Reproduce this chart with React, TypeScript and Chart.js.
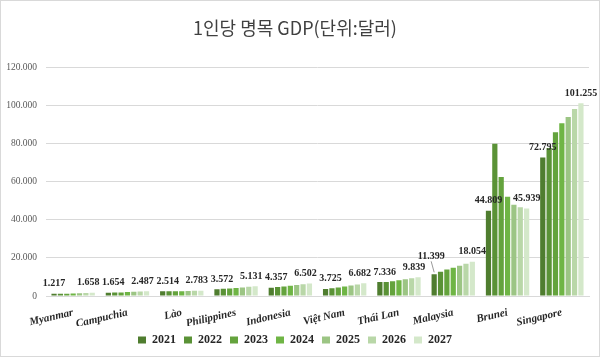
import React, { useEffect, useRef } from "react";
import { Chart, registerables } from "chart.js";
Chart.register(...registerables);

const title = "1인당 명목 GDP(단위:달러)";
const categories = ["Myanmar", "Campuchia", "Lào", "Philippines", "Indonesia", "Việt Nam", "Thái Lan", "Malaysia", "Brunei", "Singapore"];
const years = ["2021", "2022", "2023", "2024", "2025", "2026", "2027"];
const v2021 = [1217, 1654, 2514, 3572, 4357, 3725, 7336, 11399, 44809, 72795];
const v2022 = [1150, 1800, 2450, 3750, 4700, 4100, 7300, 12800, 80000, 77800];
const v2023 = [1200, 1900, 2500, 3950, 5050, 4500, 7800, 13900, 62500, 86000];
const v2024 = [1300, 2050, 2550, 4200, 5400, 4950, 8300, 14900, 52200, 90700];
const v2025 = [1400, 2200, 2650, 4500, 5800, 5500, 8800, 15900, 48000, 94100];
const v2026 = [1520, 2350, 2700, 4800, 6150, 6100, 9300, 17000, 46600, 98200];
const v2027 = [1658, 2487, 2783, 5131, 6502, 6682, 9839, 18054, 45939, 101255];
const yTicks = [0, 20000, 40000, 60000, 80000, 100000, 120000];

const seriesValues = [v2021, v2022, v2023, v2024, v2025, v2026, v2027];
const colors = ["#4f7d2f", "#5a9236", "#64a33d", "#6fb545", "#9cc584", "#b9d7a8", "#d4e8ca"];

const serif = "'Liberation Serif', 'Times New Roman', serif";

const fmt = (n: number) => String(n).replace(/\B(?=(\d{3})+(?!\d))/g, ".");

const labelPlugin = {
  id: "endLabels",
  afterDatasetsDraw(chart: any) {
    const ctx = chart.ctx;
    ctx.save();
    ctx.font = `bold 10px ${serif}`;
    ctx.fillStyle = "#262626";
    ctx.textAlign = "center";
    ctx.textBaseline = "bottom";
    const last = chart.data.datasets.length - 1;
    [0, last].forEach((di) => {
      const meta = chart.getDatasetMeta(di);
      meta.data.forEach((bar: any, i: number) => {
        const val = chart.data.datasets[di].data[i];
        let lift = 5;
        let leader = false;
        let dx = 0;
        if (i > 0 && i < 7) dx = di === 0 ? 5 : -4;
        if (i === 0 && di === last) dx = -4;
        if (di === 0 && i === 7) { lift = 13; leader = true; dx = -3; }
        const y = bar.y - lift;
        ctx.fillText(fmt(val), bar.x + dx, y);
        if (leader) {
          ctx.strokeStyle = "#7f7f7f";
          ctx.lineWidth = 0.8;
          ctx.beginPath();
          ctx.moveTo(bar.x - 3, y);
          ctx.lineTo(bar.x, bar.y - 2);
          ctx.stroke();
        }
      });
    });
    ctx.restore();
  },
};

export default function App() {
  const ref = useRef<HTMLCanvasElement | null>(null);
  useEffect(() => {
    document.body.style.margin = "0";
    if (!ref.current) return;
    const chart = new Chart(ref.current, {
      type: "bar",
      data: {
        labels: categories,
        datasets: years.map((y, k) => ({
          label: y,
          data: seriesValues[k],
          backgroundColor: colors[k],
          borderWidth: 0,
          categoryPercentage: 0.82,
          barPercentage: 0.82,
        })),
      },
      options: {
        animation: false,
        responsive: false,
        maintainAspectRatio: false,
        layout: { padding: { left: 0, right: 10, top: 8, bottom: 0 } },
        plugins: {
          title: {
            display: true,
            text: title,
            color: "#404040",
            font: { family: "'Noto Sans CJK KR', sans-serif", size: 18, weight: "normal" },
            padding: { top: 8, bottom: 29 },
          },
          legend: {
            position: "bottom",
            labels: {
              boxWidth: 8,
              boxHeight: 7,
              color: "#262626",
              font: { family: serif, size: 12, weight: "bold" },
              padding: 8,
            },
          },
          tooltip: { enabled: false },
        },
        scales: {
          x: {
            grid: { display: false },
            border: { display: true, color: "#d9d9d9" },
            ticks: {
              autoSkip: false,
              minRotation: 13,
              maxRotation: 13,
              color: "#262626",
              font: { family: serif, size: 11, weight: "bold", style: "italic" },
              padding: 2,
            },
            afterFit: (s: any) => { s.height = 30; },
          },
          y: {
            min: 0,
            max: 120000,
            afterBuildTicks: (s: any) => { s.ticks = yTicks.map((v) => ({ value: v })); },
            grid: { color: "#d9d9d9", drawTicks: false },
            border: { display: false },
            ticks: {
              color: "#595959",
              font: { family: serif, size: 9.5 },
              padding: 9,
              callback: (v: any) => fmt(Number(v)),
            },
            afterFit: (s: any) => { s.width = 45; },
          },
        },
      },
      plugins: [labelPlugin],
    });
    return () => chart.destroy();
  }, []);
  return (
    <div style={{ width: 600, height: 357, boxSizing: "border-box", border: "1px solid #d9d9d9", background: "#fff" }}>
      <canvas ref={ref} width={598} height={355} />
    </div>
  );
}
